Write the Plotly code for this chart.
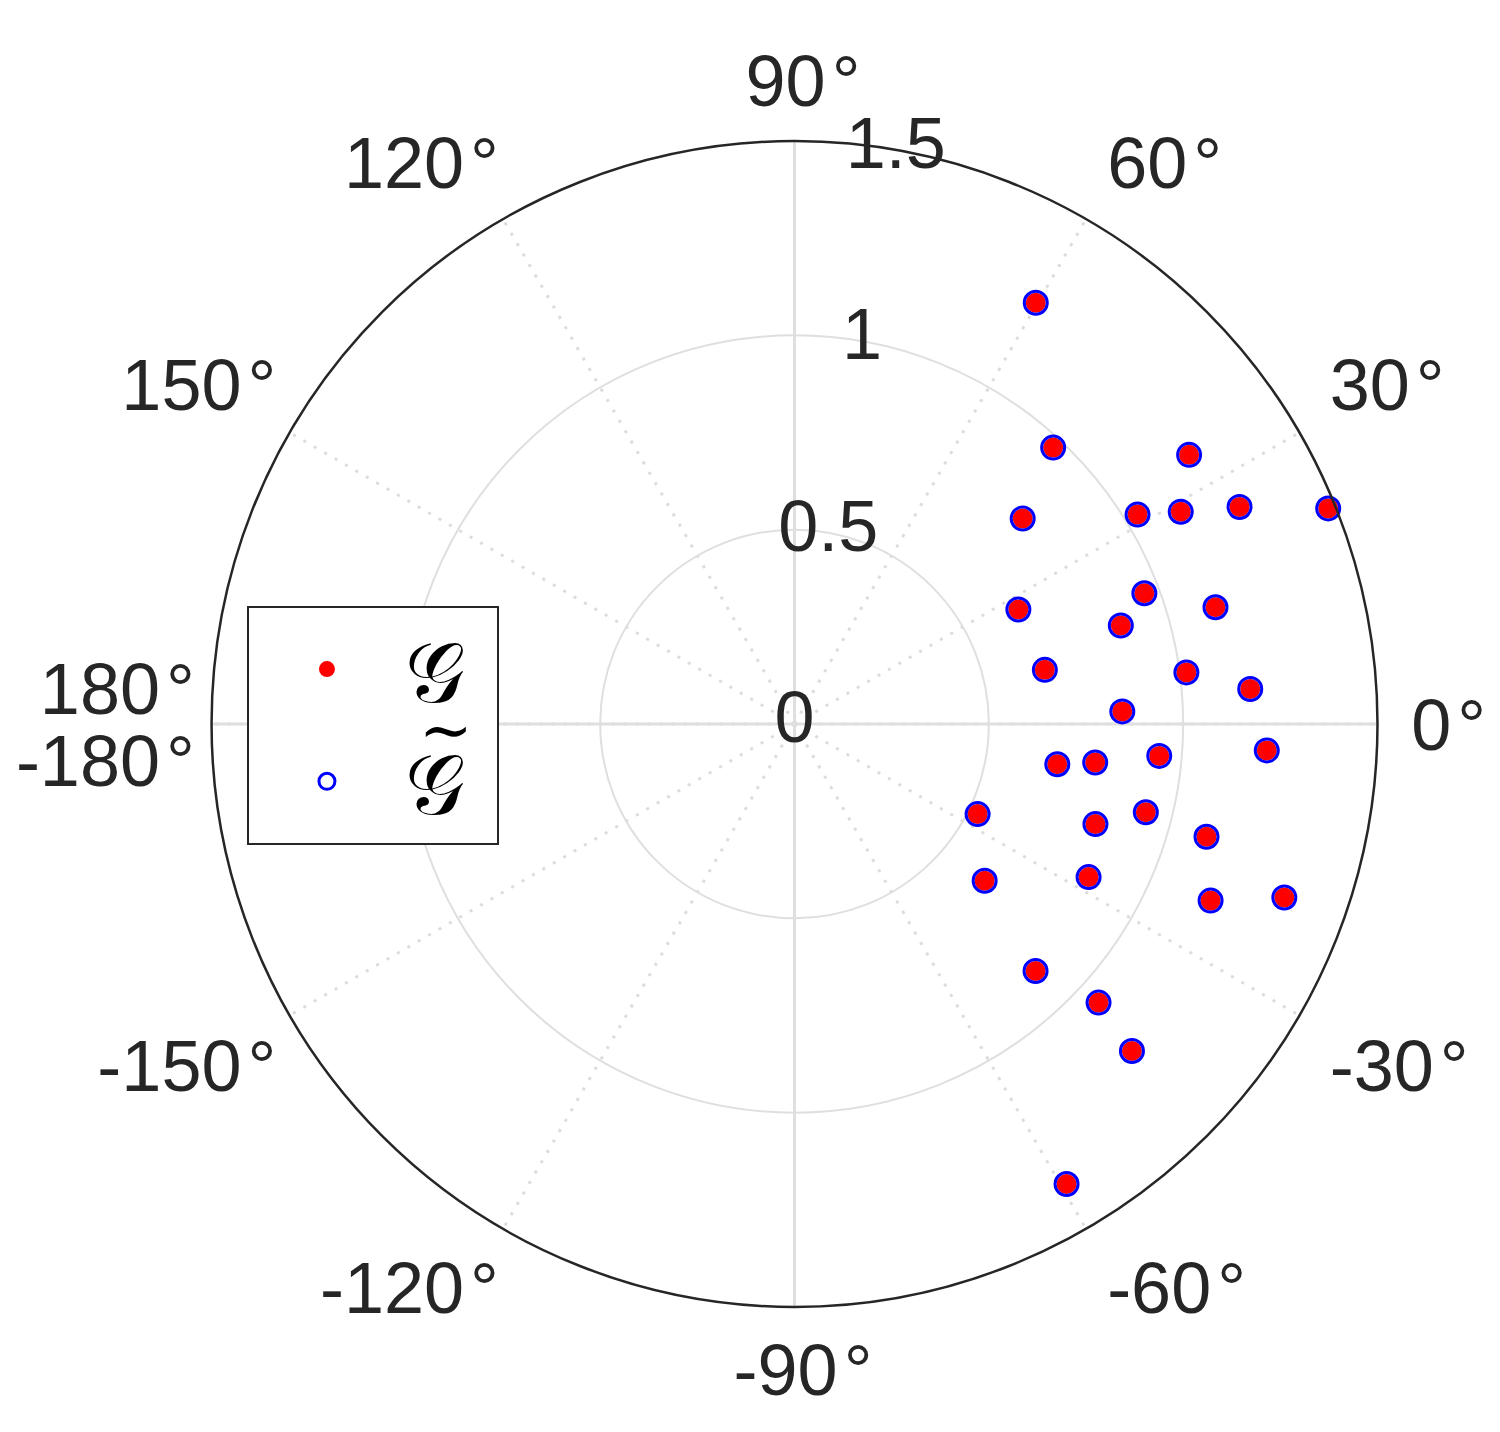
import math
import plotly.graph_objects as go

# puntos (radio, angulo en grados)
r_vals = [1.249, 0.974, 1.229, 0.790, 1.034, 1.134, 1.274, 1.481,
          0.647, 0.961, 1.124, 0.877, 0.659, 1.017, 1.176, 0.844,
          1.217, 0.684, 0.780, 0.942, 0.525, 0.816, 0.932, 1.099,
          0.634, 0.853, 1.163, 1.337, 0.888, 1.061, 1.209, 1.375]
theta_vals = [60.2, 46.9, 34.3, 42.0, 31.4, 28.8, 26.0, 22.0,
              27.1, 20.5, 15.5, 16.8, 12.2, 7.5, 4.4, 2.2,
              -3.2, -8.7, -7.3, -5.0, -26.2, -18.4, -14.1, -15.3,
              -39.5, -27.5, -23.0, -19.5, -45.7, -42.5, -44.1, -59.4]

theta_ticks = [0, 30, 60, 90, 120, 150, 180, 210, 240, 270, 300, 330]
theta_labels = ["0", "30", "60", "90", "120", "150", "180", "-150", "-120", "-90", "-60", "-30"]
r_ticks = [0, 0.5, 1, 1.5]
r_labels = ["0", "0.5", "1", "1.5"]

FONT = "Liberation Sans, Arial, sans-serif"
GRIS = "#262626"
FS = 72
DEG = "\u200a°"
R_MAX = 1.5
R_LABEL = 1.565   # radio de anclaje de las etiquetas angulares
R_MAX2 = 1.75     # rango del polar auxiliar que lleva esas etiquetas


def posicion(t):
    c, s = math.cos(math.radians(t)), math.sin(math.radians(t))
    v = "top" if s > 0.01 else ("bottom" if s < -0.01 else "middle")
    h = "right" if c > 0.01 else ("left" if c < -0.01 else "center")
    return v + " " + h


# en 180 van dos etiquetas (180 arriba, -180 abajo) como en MATLAB
lab_theta = theta_ticks + [180]
lab_text = [lab + DEG for lab in theta_labels] + ["-180" + DEG]
lab_pos = [posicion(t) for t in theta_ticks] + ["bottom left"]
lab_pos[theta_ticks.index(180)] = "top left"

# dominio del polar principal y del auxiliar
dom_x = [0.1357, 0.913]
dom_y = [0.0929, 0.9071]
k = R_MAX2 / R_MAX
# el auxiliar va un poco a la derecha y abajo para imitar el reparto de MATLAB
cx, cy = sum(dom_x) / 2 + 8.5 / 1500, sum(dom_y) / 2 - 8.5 / 1432
hx, hy = (dom_x[1] - dom_x[0]) / 2 * k, (dom_y[1] - dom_y[0]) / 2 * k
dom_x2 = [cx - hx, cx + hx]
dom_y2 = [cy - hy, cy + hy]

fig = go.Figure()

# ejes solidos 0-180 y 90-270
for a, b in [(0, 180), (90, 270)]:
    fig.add_trace(go.Scatterpolar(r=[R_MAX, 0, R_MAX], theta=[a, a, b], mode="lines",
                                  line=dict(color="#dfdfdf", width=3), hoverinfo="skip",
                                  showlegend=False))

fig.add_trace(go.Scatterpolar(r=r_vals, theta=theta_vals, mode="markers", name="𝒢\u00a0",
                              marker=dict(color="#ff0000", size=20, line=dict(width=0))))
fig.add_trace(go.Scatterpolar(r=r_vals, theta=theta_vals, mode="markers", name="𝒢\u00a0",
                              marker=dict(color="rgba(0,0,0,0)", size=23,
                                          line=dict(color="#0000ff", width=3))))

# etiquetas radiales a 80 grados (como en MATLAB)
fig.add_trace(go.Scatterpolar(r=r_ticks, theta=[80] * 4, mode="text", text=r_labels,
                              textposition="middle center", cliponaxis=False,
                              textfont=dict(family=FONT, size=FS, color=GRIS),
                              hoverinfo="skip", showlegend=False))
# etiquetas angulares, en el polar auxiliar
fig.add_trace(go.Scatterpolar(r=[R_LABEL] * len(lab_theta), theta=lab_theta, mode="text",
                              text=lab_text, textposition=lab_pos, cliponaxis=False,
                              textfont=dict(family=FONT, size=FS, color=GRIS), subplot="polar2",
                              hoverinfo="skip", showlegend=False))

hidden_axis = dict(visible=False, showgrid=False, showline=False, showticklabels=False, ticks="")

fig.update_layout(
    width=1500, height=1432,
    paper_bgcolor="white",
    margin=dict(l=0, r=0, t=0, b=0),
    font=dict(family=FONT, size=FS, color=GRIS),
    polar=dict(
        domain=dict(x=dom_x, y=dom_y),
        bgcolor="white",
        radialaxis=dict(range=[0, R_MAX], tickvals=[0.5, 1.0], showticklabels=False,
                        showline=False, ticks="", gridcolor="#dfdfdf", gridwidth=2),
        angularaxis=dict(tickvals=theta_ticks, showticklabels=False, direction="counterclockwise",
                         rotation=0, showline=True, linecolor=GRIS, linewidth=2.5, ticks="",
                         gridcolor="#dcdcdc", gridwidth=3, griddash="3px,9px"),
    ),
    polar2=dict(
        domain=dict(x=dom_x2, y=dom_y2),
        bgcolor="rgba(0,0,0,0)",
        radialaxis=dict(range=[0, R_MAX2], **hidden_axis),
        angularaxis=dict(direction="counterclockwise", rotation=0, **hidden_axis),
    ),
    legend=dict(x=0.1593, y=0.5824, xanchor="left", yanchor="top",
                bgcolor="white", bordercolor=GRIS, borderwidth=2,
                font=dict(family="DejaVu Serif, serif", size=84, color="black"),
                itemwidth=146),
    annotations=[dict(text="∼", xref="paper", yref="paper", x=0.2917, y=0.4958,
                      xanchor="center", yanchor="middle", showarrow=False,
                      font=dict(family="DejaVu Serif, serif", size=64, color="black"))],
)

fig.write_html("out.html")
